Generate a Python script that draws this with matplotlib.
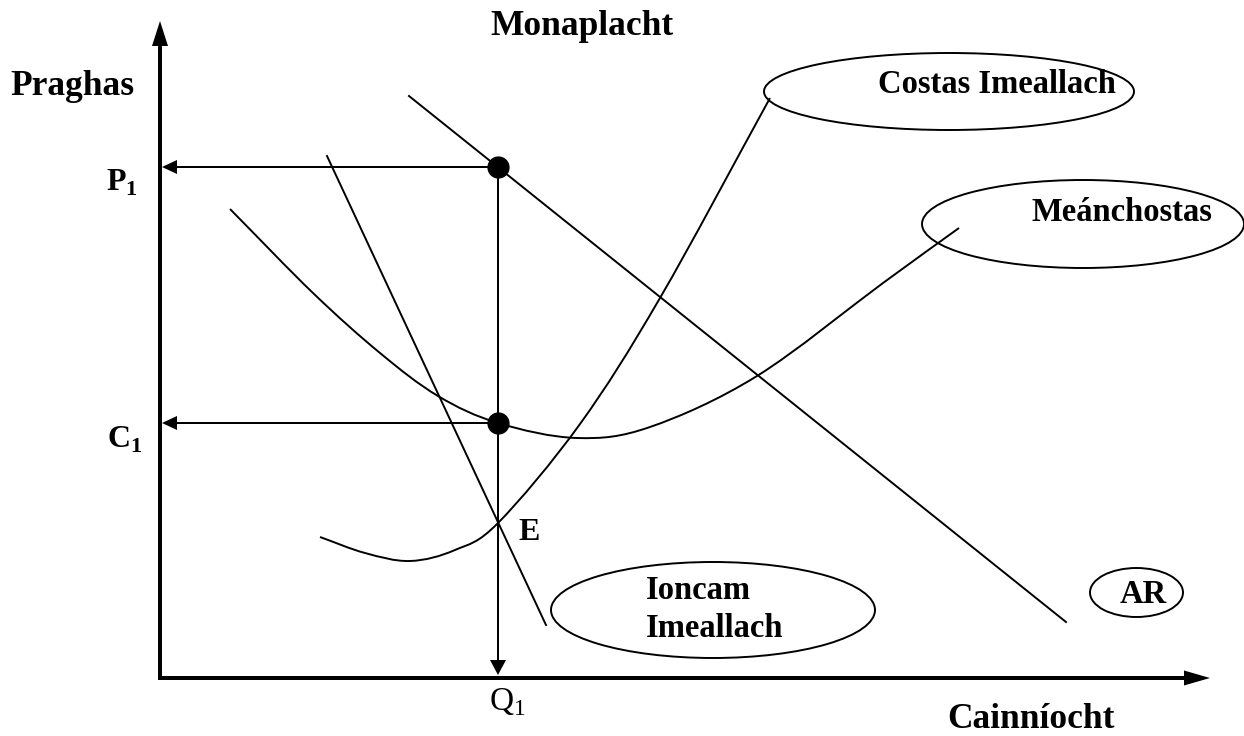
import matplotlib
matplotlib.use('Agg')
import matplotlib.pyplot as plt
from matplotlib.patches import Ellipse, PathPatch
from matplotlib.path import Path

plt.rcParams['font.family'] = ['Liberation Serif', 'DejaVu Serif']
plt.rcParams['mathtext.fontset'] = 'custom'
plt.rcParams['mathtext.rm'] = 'Liberation Serif'
plt.rcParams['mathtext.bf'] = 'Liberation Serif:bold'

# diagram units (about 1 px each), origin at the corner of the axes
q1 = 338
p1 = 511
c1 = 255

# AR (demand) and MR, straight lines
ar_x = [249, 906]
ar_y = [582, 56]
mr_x = [167, 386]
mr_y = [522, 53]

# Costas Imeallach (MC)
mc_x = [160, 205, 250, 295, 338, 420, 500, 610]
mc_y = [141, 125, 117, 128, 155, 254, 380, 580]

# Meanchostas (AC)
ac_x = [70, 153, 220, 278, 338, 417, 490, 597, 723, 799]
ac_y = [469, 385, 325, 282, 255, 240, 251, 302, 395, 450]


def smooth_path(xs, ys):
    # bezier segments through the read points (catmull-rom handles)
    pts = list(zip(xs, ys))
    n = len(pts)
    first = (2 * pts[0][0] - pts[1][0], 2 * pts[0][1] - pts[1][1])
    last = (2 * pts[-1][0] - pts[-2][0], 2 * pts[-1][1] - pts[-2][1])
    verts = [pts[0]]
    codes = [Path.MOVETO]
    for i in range(n - 1):
        a = pts[i - 1] if i > 0 else first
        b = pts[i]
        c = pts[i + 1]
        d = pts[i + 2] if i + 2 < n else last
        verts += [(b[0] + (c[0] - a[0]) / 6, b[1] + (c[1] - a[1]) / 6),
                  (c[0] - (d[0] - b[0]) / 6, c[1] - (d[1] - b[1]) / 6),
                  c]
        codes += [Path.CURVE4] * 3
    return Path(verts, codes)


fig = plt.figure(figsize=(12.44, 7.36), dpi=100)
ax = fig.add_axes([0, 0, 1, 1])
ax.set_xlim(-160, 1084)
ax.set_ylim(-58, 678)
ax.axis('off')

lw = 1.4
ax.plot(ar_x, ar_y, c='black', lw=lw)
ax.plot(mr_x, mr_y, c='black', lw=lw)
ax.add_patch(PathPatch(smooth_path(mc_x, mc_y), fill=False, ec='black', lw=lw))
ax.add_patch(PathPatch(smooth_path(ac_x, ac_y), fill=False, ec='black', lw=lw))

# axes with arrow heads
ax.arrow(0, -2, 0, 659, width=4, head_width=16, head_length=25,
         length_includes_head=True, fc='black', ec='none')
ax.arrow(-2, 0, 1052, 0, width=4, head_width=15, head_length=26,
         length_includes_head=True, fc='black', ec='none')

# P1, C1 and Q1 guide arrows
ax.arrow(q1, p1, -(q1 - 2), 0, width=2, head_width=14, head_length=15,
         length_includes_head=True, fc='black', ec='none')
ax.arrow(q1, c1, -(q1 - 2), 0, width=2, head_width=14, head_length=15,
         length_includes_head=True, fc='black', ec='none')
ax.arrow(q1, p1, 0, -(p1 - 3), width=2, head_width=16, head_length=15,
         length_includes_head=True, fc='black', ec='none')
ax.plot([q1, q1], [p1, c1], 'o', ms=15, color='black', ls='none')

# label ellipses
for cx, cy, w, h in [(789, 586.5, 370, 77), (923, 454, 322, 88),
                     (553, 68, 324, 96), (976.5, 85.5, 93, 49)]:
    ax.add_patch(Ellipse((cx, cy), w, h, fill=False, ec='black', lw=lw))

fs = 23.5
big = 25.5
ax.text(718, 585, 'Costas Imeallach', fontsize=fs, fontweight='bold', va='baseline')
ax.text(872, 457, 'Meánchostas', fontsize=fs, fontweight='bold', va='baseline')
ax.text(486, 79, 'Ioncam', fontsize=fs, fontweight='bold', va='baseline')
ax.text(486, 41, 'Imeallach', fontsize=fs, fontweight='bold', va='baseline')
ax.text(960, 75, 'AR', fontsize=fs, fontweight='bold', va='baseline')

ax.text(422, 643, 'Monaplacht', fontsize=big, fontweight='bold', ha='center', va='baseline')
ax.text(-150, 583, 'Praghas', fontsize=big, fontweight='bold', va='baseline')
ax.text(787, -50, 'Cainníocht', fontsize=big, fontweight='bold', va='baseline')

ax.text(-54, 487, r'$\mathbf{P}_\mathbf{1}$', fontsize=23, va='baseline')
ax.text(-53, 230, r'$\mathbf{C}_\mathbf{1}$', fontsize=23, va='baseline')
ax.text(358, 138, 'E', fontsize=23, fontweight='bold', va='baseline')
ax.text(329, -32, r'$\mathrm{Q}_\mathrm{1}$', fontsize=24, va='baseline')

plt.savefig('out.png', dpi=100)
